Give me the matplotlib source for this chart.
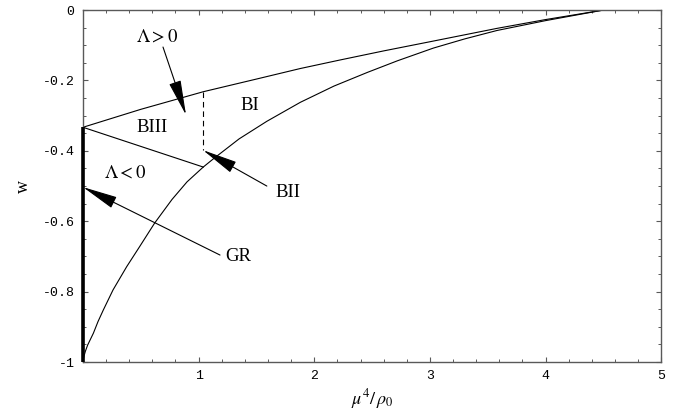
import matplotlib.pyplot as plt
from matplotlib.ticker import MultipleLocator

plt.rcParams['mathtext.fontset'] = 'stix'

# boundary curves
upper_x = [0, 0.5, 1.04, 1.5, 1.88, 2.22, 2.6, 3.0, 3.58, 4.0, 4.5]
upper_w = [-0.333, -0.282, -0.232, -0.196, -0.166, -0.142, -0.116, -0.090, -0.052, -0.027, 0.0]

lower_x = [0, 0.004, 0.01, 0.02, 0.04, 0.065, 0.09, 0.13, 0.176, 0.26, 0.378, 0.49,
           0.62, 0.77, 0.9, 1.04, 1.13, 1.35, 1.59, 1.88, 2.17, 2.46, 2.72, 3.03,
           3.3, 3.58, 4.0, 4.25, 4.5]
lower_w = [-1.0, -0.99, -0.982, -0.97, -0.952, -0.935, -0.918, -0.885, -0.852, -0.795,
           -0.729, -0.672, -0.605, -0.538, -0.488, -0.446, -0.422, -0.366, -0.316,
           -0.262, -0.216, -0.177, -0.144, -0.108, -0.082, -0.058, -0.030, -0.015, 0.0]

biii_x = [0, 1.04]
biii_w = [-0.333, -0.446]

dash_x = [1.04, 1.04]
dash_w = [-0.232, -0.398]

gr_w = [-1.0, -0.333]

labels = ['$\\Lambda > 0$', 'BIII', 'BI', '$\\Lambda < 0$', 'BII', 'GR']
label_xy = [(0.64, -0.077), (0.60, -0.335), (1.445, -0.27), (0.363, -0.463),
            (1.77, -0.517), (1.34, -0.70)]

# arrows: (tip, tail)
arrows = [((0.891, -0.298), (0.692, -0.105)),
          ((1.038, -0.398), (1.59, -0.50)),
          ((0.0, -0.503), (1.185, -0.696))]

fig = plt.figure(figsize=(6.83, 4.2), dpi=100)
ax = fig.add_axes([0.1215, 0.138, 0.8465, 0.838])

ax.plot(upper_x, upper_w, color='black', lw=0.8)
ax.plot(lower_x, lower_w, color='black', lw=0.8)
ax.plot(biii_x, biii_w, color='black', lw=0.8)
ax.plot(dash_x, dash_w, color='black', lw=0.8, dashes=(5, 3.5))
ax.plot([0, 0], gr_w, color='black', lw=2.6, solid_capstyle='butt', clip_on=False,
        zorder=5)

for s, (x, y) in zip(labels, label_xy):
    ax.text(x, y, s, ha='center', va='center', fontsize=13.5,
            family='Liberation Serif')

for tip, tail in arrows:
    ax.annotate('', xy=tip, xytext=tail,
                arrowprops=dict(arrowstyle='-|>,head_length=2.2,head_width=0.38',
                                mutation_scale=10, color='black', lw=0.8,
                                shrinkA=0, shrinkB=0))

ax.set_xlim(0, 5)
ax.set_ylim(-1, 0)
ax.xaxis.set_minor_locator(MultipleLocator(0.2))
ax.yaxis.set_minor_locator(MultipleLocator(0.05))
ax.set_xticks([1, 2, 3, 4, 5])
ax.set_xticklabels(['1', '2', '3', '4', '5'])
ax.set_yticks([0, -0.2, -0.4, -0.6, -0.8, -1])
ax.set_yticklabels(['0', '-0.2', '-0.4', '-0.6', '-0.8', '-1'])

ax.tick_params(which='both', direction='in', top=True, right=True,
               color='0.35', labelsize=9.5)
ax.tick_params(which='major', length=3.6, width=0.8, pad=6)
ax.tick_params(which='minor', length=2.2, width=0.7)
for lab in ax.get_xticklabels() + ax.get_yticklabels():
    lab.set_family('Liberation Mono')
for sp in ax.spines.values():
    sp.set_color('0.35')
    sp.set_linewidth(1.0)

ax.set_xlabel(r'$\mu^4/\,\rho_0$', fontsize=13, labelpad=3)
ax.set_ylabel('w', fontsize=13, family='Liberation Serif', labelpad=8)

fig.savefig('out.png', dpi=100)
